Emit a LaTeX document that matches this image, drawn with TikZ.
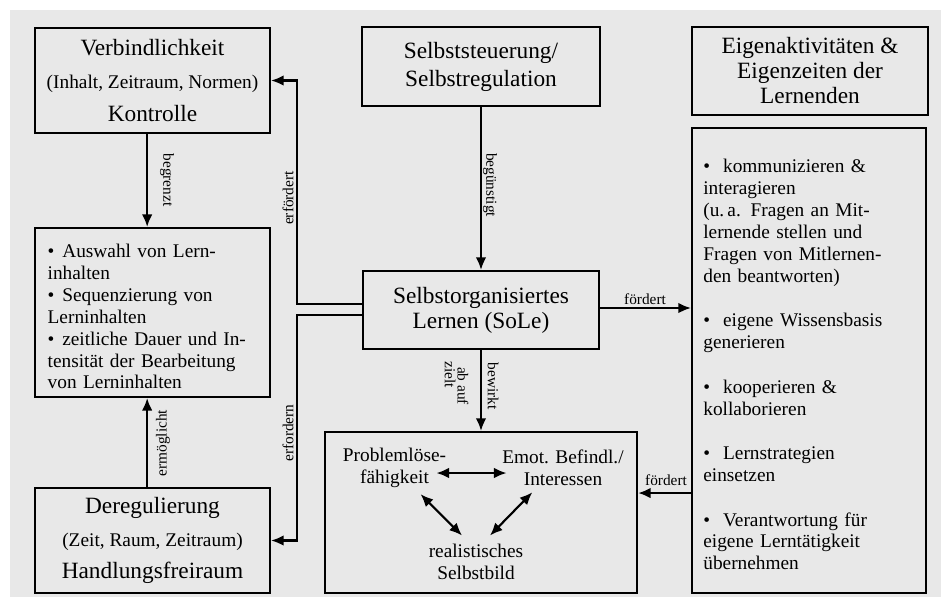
\documentclass[tikz,border=0pt]{standalone}
\usepackage{fontspec}
\setmainfont{Liberation Serif}
\usetikzlibrary{arrows.meta}
\definecolor{paper}{RGB}{232,232,232}
\newcommand\bitem[1][11pt]{\par\hangindent=#1\hangafter=1\noindent\makebox[#1][l]{\textbullet}}
\newcommand\bgap{\par\vspace{17pt}}

\begin{document}
\begin{tikzpicture}[x=0.75pt, y=-0.75pt, line width=1.6pt,
        box/.style={draw, rectangle, inner sep=3pt, align=center, font=\fontsize{17.5}{18.75}\selectfont},
        list box/.style={draw, rectangle, align=left, font=\fontsize{14.5}{16.4}\selectfont},
        inner/.style={align=center, inner sep=2pt, font=\fontsize{14.5}{16.4}\selectfont},
        lbl/.style={inner sep=1pt, font=\fontsize{11.5}{12}\selectfont},
        arr/.style={-{Latex[length=9.5pt,width=8pt]}},
        dbl/.style={{Latex[length=9.5pt,width=8pt]}-{Latex[length=9.5pt,width=8pt]}}]
    \useasboundingbox (0,0) rectangle (941,597);
    \fill[paper] (10,10) rectangle (941,597);

    % boxes
    \node[box, minimum width=176.25pt, minimum height=78.75pt, font=\fontsize{17.5}{24.5}\selectfont] (verb) at (152.5,80.5)
        {Verbindlichkeit\\{\fontsize{14.5}{24.5}\selectfont(Inhalt, Zeitraum, Normen)}\\Kontrolle};
    \node[box, minimum width=178.5pt, minimum height=59.25pt, font=\fontsize{17.5}{21}\selectfont] (steu) at (481,66.5)
        {Selbststeuerung/\\Selbstregulation};
    \node[box, minimum width=177pt, minimum height=66pt] (eigen) at (810,71)
        {Eigenaktivitäten \&\\Eigenzeiten der\\Lernenden};
    \node[list box, minimum width=176.25pt, minimum height=126.75pt, inner xsep=9.5pt, text width=157.25pt] (ausw) at (152.5,312.5)
        {\bitem Auswahl von Lern-\\inhalten
         \bitem Sequenzierung von\\Lerninhalten
         \bitem zeitliche Dauer und In-\\tensität der Bearbeitung\\von Lerninhalten};
    \node[box, minimum width=177pt, minimum height=58.5pt] (sole) at (481,310)
        {Selbstorganisiertes\\Lernen (SoLe)};
    \node[list box, minimum width=175.5pt, minimum height=348.75pt, inner xsep=8.5pt, text width=158.5pt] (akt) at (809,360.5)
        {\bitem[10pt] kommunizieren \&\\interagieren\\(u.\,a. Fragen an Mit-\\lernende stellen und\\Fragen von Mitlernen-\\den beantworten)
         \bgap\bitem[10pt] eigene Wissensbasis\\generieren
         \bgap\bitem[10pt] kooperieren \&\\kollaborieren
         \bgap\bitem[10pt] Lernstrategien\\einsetzen
         \bgap\bitem[10pt] Verantwortung für\\eigene Lerntätigkeit\\übernehmen};
    \node[box, minimum width=176.25pt, minimum height=78.75pt, font=\fontsize{17.5}{24.5}\selectfont] (dereg) at (152.5,540.5)
        {Deregulierung\\{\fontsize{14.5}{24.5}\selectfont(Zeit, Raum, Zeitraum)}\\Handlungsfreiraum};
    \node[box, minimum width=234pt, minimum height=120.75pt] (ziel) at (481,512.5) {};

    % inside the goal box
    \node[inner] (prob) at (394.5,468) {Problemlöse-\\fähigkeit};
    \node[inner] (emot) at (563,468) {Emot. Befindl./\\Interessen};
    \node[inner] (bild) at (476,562) {realistisches\\Selbstbild};
    \draw[dbl] ([xshift=-10pt,yshift=-3.75pt]prob.east) -- ([xshift=6pt,yshift=-3.75pt]emot.west);
    \draw[dbl] ([xshift=19.5pt,yshift=-2pt]prob.south) -- ([xshift=-10.5pt,yshift=3.75pt]bild.north);
    \draw[dbl] ([xshift=-23pt,yshift=-2pt]emot.south) -- ([xshift=10.5pt,yshift=3.75pt]bild.north);

    % connectors
    \coordinate (bus) at (297,310);
    \draw[arr] ([xshift=-4pt]verb.south) -- ([xshift=-4pt]ausw.north);
    \draw[arr] ([xshift=-4pt]dereg.north) -- ([xshift=-4pt]ausw.south);
    \draw[arr] ([yshift=4.5pt]sole.west) -| (bus |- verb.east) -- (verb.east);
    \draw[arr] ([yshift=-3.75pt]sole.west) -| (bus |- dereg.east) -- (dereg.east);
    \draw[arr] (steu.south) -- (sole.north);
    \draw[arr] (sole.south) -- (ziel.north);
    \draw[arr] ([yshift=1.5pt]sole.east) -- ([yshift=1.5pt]sole.east -| akt.west);
    \draw[arr] ([yshift=14.6pt]ziel.east -| akt.west) -- ([yshift=14.6pt]ziel.east);

    % connector labels
    \node[lbl, rotate=-90] (l1) at (167,180) {begrenzt};
    \node[lbl, rotate=90] (l2) at (288,198) {erfördert};
    \node[lbl, rotate=90] (l3) at (288,433) {erfordern};
    \node[lbl, rotate=90] (l4) at (163,443) {ermöglicht};
    \node[lbl, rotate=-90] (l5) at (490,185) {begünstigt};
    \node[lbl, rotate=-90] (l6) at (450,375) {zielt};
    \node[lbl, rotate=-90] (l7) at (463,386) {ab auf};
    \node[lbl, rotate=-90] (l8) at (493,386) {bewirkt};
    \node[lbl] (l9) at (645,299) {fördert};
    \node[lbl] (l10) at (666,480) {fördert};
\end{tikzpicture}
\end{document}
